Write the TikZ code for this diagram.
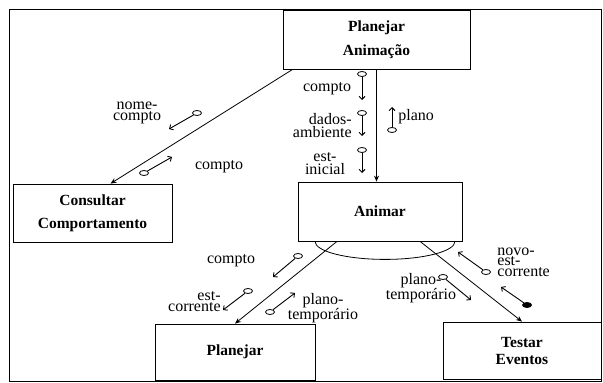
\documentclass[tikz,border=0pt]{standalone}
\usepackage{fontspec}
\setmainfont{Liberation Serif}
\usetikzlibrary{arrows.meta, shapes.geometric, positioning}

\begin{document}
\begin{tikzpicture}[x=1pt, y=-1pt, line width=0.8pt,
  module/.style={draw, rectangle, align=center, inner sep=0pt,
    font=\fontsize{15.5}{24}\selectfont\bfseries},
  flow/.style={-{Stealth[length=6pt,width=5pt]}},
  tail/.style={draw, ellipse, inner sep=0pt, minimum width=9pt, minimum height=5pt},
  flag/.style={tail, fill=black},
  couple/.style={line width=0.9pt, -{Straight Barb[length=3pt,width=6pt]}},
  lbl/.style={inner sep=0pt, font=\fontsize{16}{13}\selectfont},
  tight/.style={font=\fontsize{16}{11}\selectfont}]
\useasboundingbox (0,0) rectangle (603,383);
\draw (9,9) rectangle (601,381);

% modules
\node[module, minimum width=187pt, minimum height=59pt] (pa) at (376.5,39.5) {Planejar\\Animação};
\node[module, minimum width=159pt, minimum height=58pt, font=\fontsize{15.5}{23}\selectfont\bfseries] (cc) at (92.5,213) {Consultar\\Comportamento};
\node[module, minimum width=164pt, minimum height=59pt] (an) at (380,211.5) {Animar};
\node[module, minimum width=160pt, minimum height=56pt] (pl) at (235,352) {Planejar};
\node[module, minimum width=158pt, minimum height=57pt, font=\fontsize{15.5}{17}\selectfont\bfseries] (te) at (522,350.5) {Testar\\Eventos};

% connections
\draw[flow] (pa.south) -- (pa.south |- an.north);
\draw[flow] ([xshift=10pt]pa.south west) -- ([xshift=18pt]cc.north);
\draw[flow] ([xshift=-43pt]an.south) -- (pl.north);
\draw[flow] ([xshift=40pt]an.south) -- (te.north);
\draw ([xshift=-65pt]an.south) arc[start angle=180, end angle=0, x radius=70, y radius=18];

% couples
\node[tail] (t1) at (362,74) {};   \coordinate (h1) at (362,100);
\node[tail] (t2) at (362,113) {};  \coordinate (h2) at (362,136);
\node[tail] (t3) at (362,150) {};  \coordinate (h3) at (362,173);
\node[tail] (t4) at (392,130) {};  \coordinate (h4) at (392,107);
\node[tail] (t5) at (197,113) {};  \coordinate (h5) at (169,129);
\node[tail] (t6) at (144,173) {};  \coordinate (h6) at (172,157);
\node[tail] (t7) at (298,256) {};  \coordinate (h7) at (273,277);
\node[tail] (t8) at (248,291) {};  \coordinate (h8) at (223,310);
\node[tail] (t9) at (270,312) {};  \coordinate (h9) at (295,293);
\node[tail] (t10) at (443,277) {}; \coordinate (h10) at (471,300);
\node[tail] (t11) at (486,272) {}; \coordinate (h11) at (458,252);
\node[flag] (t12) at (527,305) {}; \coordinate (h12) at (501,287);
\foreach \i in {1,...,12}
  \draw[couple] (t\i) -- (h\i);

% labels
\node[lbl] (l1) at (327,89) {compto};
\node[lbl, align=right, anchor=east] (l2) at (352,126) {dados-\\ambiente};
\node[lbl, align=center] (l3) at (325,164) {est-\\inicial};
\node[lbl, anchor=west] (l4) at (398,117) {plano};
\node[lbl, tight, align=center] (l5) at (137,113) {nome-\\compto};
\node[lbl] (l6) at (219,167) {compto};
\node[lbl] (l7) at (231,261) {compto};
\node[lbl, tight, align=right, anchor=east] (l8) at (221,302) {est-\\corrente};
\node[lbl, tight, align=center] (l9) at (323,308) {plano-\\temporário};
\node[lbl, tight, align=center] (l10) at (421,288) {plano-\\temporário};
\node[lbl, align=left, anchor=west, font=\fontsize{16}{10.5}\selectfont] (l11) at (497,262) {novo-\\est-\\corrente};
\end{tikzpicture}
\end{document}
